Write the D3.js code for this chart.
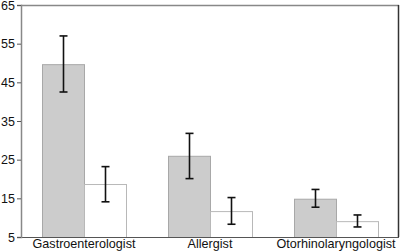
<!DOCTYPE html>
<html>
<head>
<meta charset="utf-8">
<script src="https://cdn.jsdelivr.net/npm/d3@7"></script>
<style>
body { margin: 0; background: #fff; }
text { font-family: "Liberation Sans", Arial, sans-serif; }
</style>
</head>
<body>
<svg width="400" height="251"></svg>
<script>
var categories = ["Gastroenterologist", "Allergist", "Otorhinolaryngologist"];
var series = ["a", "b"];
var meanA = [49.7, 26.0, 14.9];
var lowA = [42.5, 20.1, 12.7];
var highA = [57.0, 31.8, 17.3];
var meanB = [18.7, 11.7, 9.1];
var lowB = [14.1, 8.3, 7.6];
var highB = [23.2, 15.2, 10.7];
var yTicks = [5, 15, 25, 35, 45, 55, 65];

var fills = ["#cccccc", "#ffffff"],
    strokes = ["#a8a8a8", "#b8b8b8"];

var svg = d3.select("svg"),
    margin = {top: 5, right: 1, bottom: 14, left: 21},
    width = +svg.attr("width") - margin.left - margin.right,
    height = +svg.attr("height") - margin.top - margin.bottom;

var rows = [];
categories.forEach(function (c, i) {
    rows.push({cat: c, s: "a", k: 0, v: meanA[i], lo: lowA[i], hi: highA[i]});
    rows.push({cat: c, s: "b", k: 1, v: meanB[i], lo: lowB[i], hi: highB[i]});
});

var x0 = d3.scaleBand().domain(categories).range([0, width])
    .paddingInner(1 / 3).paddingOuter(1 / 6);
var x1 = d3.scaleBand().domain(series).range([0, x0.bandwidth()]);
var y = d3.scaleLinear().domain([5, 65]).range([height, 0]);

var g = svg.append("g").attr("transform", "translate(" + margin.left + "," + margin.top + ")");

// bars
g.append("g").selectAll("rect")
    .data(rows)
    .enter().append("rect")
    .attr("x", function (d) { return x0(d.cat) + x1(d.s) + 0.5; })
    .attr("y", function (d) { return y(d.v) + 0.5; })
    .attr("width", x1.bandwidth())
    .attr("height", function (d) { return height - y(d.v); })
    .attr("fill", function (d) { return fills[d.k]; })
    .attr("stroke", function (d) { return strokes[d.k]; })
    .attr("stroke-width", 1);

// error bars
var eb = g.append("g").attr("stroke", "#111").attr("stroke-width", 1.6)
    .selectAll("g").data(rows).enter().append("g")
    .attr("transform", function (d) {
        return "translate(" + (x0(d.cat) + x1(d.s) + x1.bandwidth() / 2 + 0.5) + ",0)";
    });
eb.append("line")
    .attr("y1", function (d) { return y(d.hi); })
    .attr("y2", function (d) { return y(d.lo); });
eb.append("line").attr("x1", -4).attr("x2", 4)
    .attr("y1", function (d) { return y(d.hi); })
    .attr("y2", function (d) { return y(d.hi); });
eb.append("line").attr("x1", -4).attr("x2", 4)
    .attr("y1", function (d) { return y(d.lo); })
    .attr("y2", function (d) { return y(d.lo); });

// frame
g.append("line").attr("x1", 0).attr("x2", width).attr("y1", 0.5).attr("y2", 0.5)
    .attr("stroke", "#888").attr("stroke-width", 1.5);
g.append("line").attr("x1", width - 0.5).attr("x2", width - 0.5).attr("y1", 0).attr("y2", height)
    .attr("stroke", "#333").attr("stroke-width", 1.5);
g.append("line").attr("x1", 0).attr("x2", width).attr("y1", height + 0.5).attr("y2", height + 0.5)
    .attr("stroke", "#555").attr("stroke-width", 1.2);

// y axis
var yAxis = g.append("g").call(d3.axisLeft(y).tickValues(yTicks).tickSize(4).tickPadding(2));
yAxis.select(".domain").attr("stroke", "#888").attr("stroke-width", 1.5);
yAxis.selectAll(".tick line").attr("stroke", "#555");
yAxis.selectAll("text").attr("font-size", 12.5).attr("fill", "#111")
    .attr("font-family", "Liberation Sans, Arial, sans-serif");

// category labels
var xAxis = g.append("g").attr("transform", "translate(0," + height + ")")
    .call(d3.axisBottom(x0).tickSize(0).tickPadding(2));
xAxis.select(".domain").remove();
xAxis.selectAll("text").attr("font-size", 12.6).attr("fill", "#111")
    .attr("font-family", "Liberation Sans, Arial, sans-serif");
</script>
</body>
</html>
